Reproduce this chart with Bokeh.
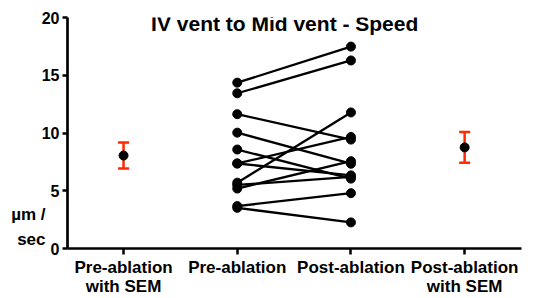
from bokeh.plotting import figure
from bokeh.models import ColumnDataSource, FixedTicker, Label, Whisker, TeeHead, Range1d, LinearAxis
from bokeh.embed import file_html
from bokeh.resources import INLINE

categories = ["Pre-ablation\nwith SEM", "Pre-ablation", "Post-ablation", "Post-ablation\nwith SEM"]
pre = [14.36, 13.44, 11.63, 10.03, 8.57, 7.36, 7.36, 5.70, 5.50, 5.19, 3.67, 3.52]
post = [17.48, 16.28, 9.43, 7.34, 6.05, 9.66, 6.33, 11.78, 6.20, 7.56, 4.79, 2.26]
summary_means = [8.05, 8.75]
summary_sems = [1.12, 1.33]
y_ticks = [0, 5, 10, 15, 20]
title_text = "IV vent to Mid vent -  Speed"
y_label_lines = ["µm /", "sec"]

FONT = "Liberation Sans"
RED = "#FF2A00"
W, H = 545, 298

p = figure(width=W, height=H, output_backend="svg", toolbar_location=None,
           x_range=Range1d(-0.493, 3.5), y_range=Range1d(0, 20),
           min_border_left=67, min_border_right=24, min_border_top=17, min_border_bottom=48)
p.outline_line_color = None
p.grid.visible = False
p.background_fill_color = "white"
p.border_fill_color = "white"

x_pre = [1] * len(pre)
x_post = [2] * len(post)
src = ColumnDataSource(dict(x0=x_pre, y0=pre, x1=x_post, y1=post))
p.segment(x0="x0", y0="y0", x1="x1", y1="y1", source=src, line_color="black", line_width=2.3)
p.scatter(x="x0", y="y0", source=src, size=9, color="black")
p.scatter(x="x1", y="y1", source=src, size=9, color="black")

sx = [0, 3]
sum_src = ColumnDataSource(dict(
    x=sx, m=summary_means,
    lo=[m - s for m, s in zip(summary_means, summary_sems)],
    hi=[m + s for m, s in zip(summary_means, summary_sems)]))
w = Whisker(base="x", lower="lo", upper="hi", source=sum_src, dimension="height",
            line_color=RED, line_width=2.5,
            lower_head=TeeHead(size=11, line_color=RED, line_width=2.5),
            upper_head=TeeHead(size=11, line_color=RED, line_width=2.5))
p.add_layout(w)
p.scatter(x="x", y="m", source=sum_src, size=9, color="black")

line1 = {i: c.split("\n")[0] for i, c in enumerate(categories)}
line2 = {i: c.split("\n")[1] for i, c in enumerate(categories) if "\n" in c}

def style_text(ax, size):
    ax.major_label_text_font = FONT
    ax.major_label_text_font_style = "bold"
    ax.major_label_text_color = "black"
    ax.major_label_text_font_size = size

# main axes
p.xaxis.ticker = FixedTicker(ticks=list(line1.keys()))
p.xaxis.major_label_overrides = line1
p.yaxis.ticker = FixedTicker(ticks=y_ticks)
for ax in (p.xaxis, p.yaxis):
    ax.axis_line_width = 2.7
    ax.axis_line_color = "black"
    ax.major_tick_line_width = 2.5
    ax.major_tick_line_color = "black"
    ax.major_tick_in = 0
    ax.minor_tick_line_color = None
p.xaxis.major_tick_out = 6
p.yaxis.major_tick_out = 5
style_text(p.xaxis, "17px")
style_text(p.yaxis, "16px")
p.xaxis.major_label_standoff = 3
p.yaxis.major_label_standoff = 3

# second line of category labels
x2 = LinearAxis(ticker=FixedTicker(ticks=list(line2.keys())), major_label_overrides=line2,
                axis_line_color=None, major_tick_line_color=None, minor_tick_line_color=None,
                major_tick_in=0, major_tick_out=0, major_label_standoff=-3)
style_text(x2, "17px")
p.add_layout(x2, "below")

# y unit label, placed beside the axis near its bottom
yl_pos = [2.94, 0.80]
y2 = LinearAxis(ticker=FixedTicker(ticks=yl_pos),
                major_label_overrides={v: t for v, t in zip(yl_pos, y_label_lines)},
                axis_line_color=None, major_tick_line_color=None, minor_tick_line_color=None,
                major_tick_in=0, major_tick_out=0, major_label_standoff=-7)
style_text(y2, "17px")
p.add_layout(y2, "left")

p.add_layout(Label(x=1.443, y=19.48, text=title_text, text_align="center", text_baseline="middle",
                   text_font=FONT, text_font_style="bold", text_font_size="21px", text_color="black"))

open("out.html", "w").write(file_html(p, INLINE))
